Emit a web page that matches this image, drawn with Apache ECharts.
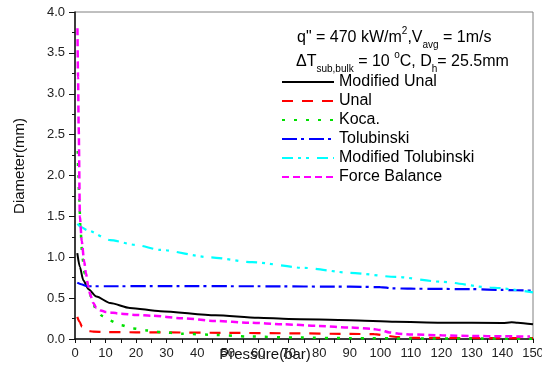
<!DOCTYPE html>
<html><head><meta charset="utf-8">
<script src="https://cdn.jsdelivr.net/npm/echarts@6/dist/echarts.min.js"></script>
<style>html,body{margin:0;padding:0;background:#fff}#c{width:542px;height:365px}</style>
</head><body><div id="c"></div>
<script>
const xTicks = [0,10,20,30,40,50,60,70,80,90,100,110,120,130,140,150];
const yTicks = [0.0,0.5,1.0,1.5,2.0,2.5,3.0,3.5,4.0];

const modUnalP = [0.75,1.6,2.7,4.4,7,11.5,18,28,46,60,70,90,105,120,140,143,145,150];
const modUnalD = [1.05,0.88,0.72,0.61,0.52,0.44,0.38,0.34,0.29,0.26,0.245,0.23,0.21,0.20,0.195,0.205,0.20,0.18];

const unalP = [0.75,1.5,2.3,3,4,6,10,20,30,50,70,90,98,102,106,110,130,150];
const unalD = [0.27,0.21,0.15,0.12,0.10,0.09,0.085,0.082,0.08,0.075,0.07,0.062,0.06,0.04,0.022,0.015,0.012,0.01];

const kocaP = [0.9,1.1,1.4,1.8,2.4,3.2,4.4,5.5,7,9,11,15,19,23.5,28,35,46,57,74,90,110,130,150];
const kocaD = [2.3,2.0,1.7,1.35,1.0,0.8,0.64,0.48,0.35,0.28,0.23,0.17,0.13,0.105,0.085,0.065,0.05,0.03,0.017,0.01,0.007,0.005,0.004];

const tolP = [0.75,2,4,10,30,60,90,100,104,110,130,140,150];
const tolD = [0.69,0.67,0.645,0.645,0.647,0.645,0.64,0.635,0.62,0.615,0.61,0.60,0.59];

const modTolP = [0.8,2,4,11.5,20,28,44,58,75,90,105,120,136,150];
const modTolD = [1.41,1.37,1.33,1.21,1.15,1.09,1.0,0.94,0.87,0.81,0.76,0.70,0.63,0.57];

const fbP = [0.8,1.0,1.2,1.6,2.2,3.0,3.6,4.3,5,6,7,8.5,10,15,20,25,35,46,57,68,80,90,97,100,103,106,110,120,130,140,149];
const fbD = [3.8,3.2,2.6,1.5,1.2,0.95,0.8,0.65,0.54,0.44,0.38,0.35,0.33,0.31,0.295,0.285,0.255,0.22,0.20,0.18,0.16,0.14,0.125,0.11,0.08,0.065,0.055,0.045,0.037,0.033,0.03];

const seriesNames = ['Modified Unal','Unal','Koca.','Tolubinski','Modified Tolubinski','Force Balance'];

const FONT = '"Liberation Sans", Arial, sans-serif';
const zip = (a,b) => a.map((v,i)=>[v,b[i]]);

function mk(name, P, D, color, dash, width) {
  return {
    name, type: 'line', data: zip(P, D), symbol: 'none', showSymbol: false,
    smooth: 0.25, smoothMonotone: 'x', animation: false,
    lineStyle: { color, width: width, type: dash, cap: 'butt' },
    itemStyle: { color }
  };
}

const chart = echarts.init(document.getElementById('c'), null, {renderer:'canvas'});
chart.setOption({
  animation: false,
  backgroundColor: '#fff',
  grid: { left: 75, right: 9, top: 12, bottom: 26, show: true, borderColor: '#808080', borderWidth: 1, outerBoundsMode: 'none', containLabel: false },
  xAxis: {
    type: 'value', min: xTicks[0], max: xTicks[xTicks.length-1], interval: 10,
    axisLine: { lineStyle: { color: '#111', width: 1.5 } },
    axisTick: { show: true, length: 4, lineStyle: { color: '#111', width: 1 } },
    minorTick: { show: true, splitNumber: 2, length: 4, lineStyle: { color: '#111', width: 1 } },
    splitLine: { show: false },
    axisLabel: { color: '#222', fontSize: 13, fontFamily: FONT, margin: 8, showMaxLabel: true, showMinLabel: true }
  },
  yAxis: {
    type: 'value', min: yTicks[0], max: yTicks[yTicks.length-1], interval: 0.5,
    axisLine: { show: true, lineStyle: { color: '#111', width: 1.5 } },
    axisTick: { show: true, length: 6, lineStyle: { color: '#111', width: 1 } },
    minorTick: { show: true, splitNumber: 2, length: 3, lineStyle: { color: '#111', width: 1 } },
    splitLine: { show: false },
    axisLabel: { color: '#222', fontSize: 13, fontFamily: FONT, margin: 10, formatter: v => v.toFixed(1) }
  },
  legend: {
    data: seriesNames, orient: 'vertical', left: 281, top: 74,
    itemWidth: 52, itemHeight: 14, itemGap: 3, padding: 0,
    itemStyle: { opacity: 0, borderWidth: 0 },
    textStyle: { fontSize: 16, fontFamily: FONT, color: '#000', lineHeight: 16 },
    selectedMode: false
  },
  graphic: [
    { type: 'text', left: 297, top: 26, silent: true,
      style: { text: '{m|q" = 470 kW/m}{sp|2}{m|,V}{sb|avg}{m| = 1m/s}', font: '16px ' + FONT, fill: '#000',
        rich: { m: { fontSize: 16, fontFamily: FONT, lineHeight: 24, fill:'#000' },
                sp: { fontSize: 10, fontFamily: FONT, lineHeight: 10, verticalAlign: 'top', fill:'#000' },
                sb: { fontSize: 10, fontFamily: FONT, lineHeight: 10, verticalAlign: 'bottom', fill:'#000' } } } },
    { type: 'text', left: 296, top: 50, silent: true,
      style: { text: '{m|\u0394T}{sb|sub,bulk}{m| = 10 }{sp|o}{m|C, D}{sb|h}{m|= 25.5mm}', font: '16px ' + FONT, fill: '#000',
        rich: { m: { fontSize: 16, fontFamily: FONT, lineHeight: 24, fill:'#000' },
                sp: { fontSize: 10, fontFamily: FONT, lineHeight: 10, verticalAlign: 'top', fill:'#000' },
                sb: { fontSize: 10, fontFamily: FONT, lineHeight: 10, verticalAlign: 'bottom', fill:'#000' } } } },
    { type: 'text', x: 20, y: 166, rotation: Math.PI/2, silent: true,
      style: { text: 'Diameter(mm)', font: '15px ' + FONT, fill: '#111', align: 'center', verticalAlign: 'middle' } },
    { type: 'text', x: 265, y: 355, silent: true,
      style: { text: 'Pressure(bar)', font: '15px ' + FONT, fill: '#111', align: 'center', verticalAlign: 'middle' } }
  ],
  series: [
    mk(seriesNames[0], modUnalP, modUnalD, '#000000', 'solid', 2),
    mk(seriesNames[1], unalP, unalD, '#ff0000', [11,9], 2.2),
    mk(seriesNames[2], kocaP, kocaD, '#00e000', [3,9], 2.5),
    mk(seriesNames[3], tolP, tolD, '#0000ff', [15,4,3,5], 2.2),
    mk(seriesNames[4], modTolP, modTolD, '#00ffff', [11,5,3,5,3,8], 2.2),
    mk(seriesNames[5], fbP, fbD, '#ff00ff', [7,4], 2.5)
  ]
});
</script></body></html>
